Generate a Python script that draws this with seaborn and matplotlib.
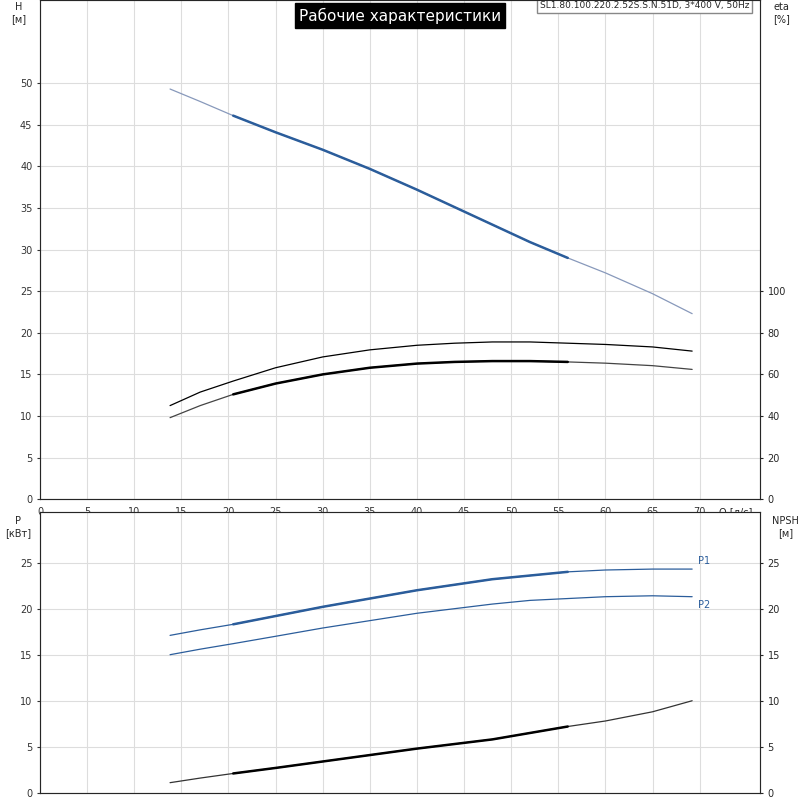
import numpy as np
import pandas as pd
import matplotlib
matplotlib.use("Agg")
import matplotlib.pyplot as plt
import seaborn as sns

sns.set_style("white")
plt.rcParams['font.family'] = ['DejaVu Sans']

# data
q = [13.8, 17, 20.5, 25, 30, 35, 40, 44, 48, 52, 56, 60, 65, 69.2]
head = [49.3, 47.8, 46.1, 44.1, 42.0, 39.7, 37.2, 35.1, 33.0, 30.9, 29.0, 27.2, 24.7, 22.3]
eta1 = [45, 51.5, 56.8, 63.2, 68.4, 71.8, 74.0, 75.0, 75.6, 75.6, 75.0, 74.4, 73.2, 71.2]
eta2 = [39.2, 45.0, 50.4, 55.6, 60.0, 63.2, 65.2, 66.0, 66.4, 66.4, 66.0, 65.4, 64.2, 62.4]
p1 = [17.1, 17.7, 18.3, 19.2, 20.2, 21.1, 22.0, 22.6, 23.2, 23.6, 24.0, 24.2, 24.3, 24.3]
p2 = [15.0, 15.6, 16.2, 17.0, 17.9, 18.7, 19.5, 20.0, 20.5, 20.9, 21.1, 21.3, 21.4, 21.3]
npsh = [1.1, 1.6, 2.1, 2.7, 3.4, 4.1, 4.8, 5.3, 5.8, 6.5, 7.2, 7.8, 8.8, 10.0]
q_lo, q_hi = 20.5, 56

df = pd.DataFrame({"Q": q, "H": head, "eta1": eta1, "eta2": eta2,
                   "P1": p1, "P2": p2, "NPSH": npsh})
work = df[(df.Q >= q_lo) & (df.Q <= q_hi)]

blue = "#2b5d9b"
fig = plt.figure(figsize=(8, 8), dpi=100)
ax1 = fig.add_axes([0.05, 0.376, 0.9, 0.624])
ax2 = fig.add_axes([0.05, 0.009, 0.9, 0.351])


def style(ax, ymax, yticks):
    ax.set_xlim(0, 76.4)
    ax.set_ylim(0, ymax)
    ax.set_xticks(np.arange(0, 75, 5))
    ax.set_yticks(yticks)
    ax.grid(True, color="#dddddd", lw=0.8)
    ax.set_xlabel("")
    ax.set_ylabel("")
    for s in ax.spines.values():
        s.set_color("#888888")
    ax.tick_params(labelsize=7, length=2, colors="#333333")


# top chart: head and efficiency
ax1r = ax1.twinx()
sns.lineplot(df, x="Q", y="H", ax=ax1, color="#8899bb", lw=0.9)
sns.lineplot(work, x="Q", y="H", ax=ax1, color=blue, lw=1.8)
sns.lineplot(df, x="Q", y="eta1", ax=ax1r, color="black", lw=0.9)
sns.lineplot(df, x="Q", y="eta2", ax=ax1r, color="#444444", lw=0.9)
sns.lineplot(work, x="Q", y="eta2", ax=ax1r, color="black", lw=1.8)
style(ax1, 60, np.arange(0, 55, 5))
ax1.set_xticklabels([str(v) for v in range(0, 75, 5)])
ax1r.set_ylim(0, 240)
ax1r.set_yticks(np.arange(0, 120, 20))
ax1r.set_ylabel("")
ax1r.tick_params(labelsize=7, length=2)
ax1.text(-0.03, 0.995, "H\n[м]", transform=ax1.transAxes, ha="center", va="top", fontsize=7)
ax1r.text(1.03, 0.995, "eta\n[%]", transform=ax1.transAxes, ha="center", va="top", fontsize=7)
ax1.text(73.8, -1.6, "Q [л/с]", ha="center", va="center", fontsize=7)
ax1.text(0.5, 0.985, "Рабочие характеристики", transform=ax1.transAxes, ha="center", va="top",
         fontsize=11, color="white", fontfamily="Liberation Sans Narrow",
         bbox=dict(facecolor="black", edgecolor="black", pad=3))
ax1.text(0.985, 0.998, "SL1.80.100.220.2.52S.S.N.51D, 3*400 V, 50Hz", transform=ax1.transAxes,
         ha="right", va="top", fontsize=6.5, fontfamily="Liberation Sans Narrow",
         bbox=dict(facecolor="white", edgecolor="#888888", pad=2))

# bottom chart: power and NPSH
ax2r = ax2.twinx()
sns.lineplot(df, x="Q", y="P1", ax=ax2, color=blue, lw=0.9)
sns.lineplot(work, x="Q", y="P1", ax=ax2, color=blue, lw=1.8)
sns.lineplot(df, x="Q", y="P2", ax=ax2, color=blue, lw=0.9)
sns.lineplot(df, x="Q", y="NPSH", ax=ax2r, color="#333333", lw=0.9)
sns.lineplot(work, x="Q", y="NPSH", ax=ax2r, color="black", lw=1.8)
style(ax2, 30.5, np.arange(0, 30, 5))
ax2.set_xticklabels([])
ax2r.set_ylim(0, 30.5)
ax2r.set_yticks(np.arange(0, 30, 5))
ax2r.set_ylabel("")
ax2r.tick_params(labelsize=7, length=2)
ax2.text(69.8, p1[-1] + 0.6, "P1", fontsize=7, color=blue)
ax2.text(69.8, p2[-1] - 1.2, "P2", fontsize=7, color=blue)
ax2.text(-0.03, 0.985, "P\n[кВт]", transform=ax2.transAxes, ha="center", va="top", fontsize=7)
ax2r.text(1.035, 0.985, "NPSH\n[м]", transform=ax2.transAxes, ha="center", va="top", fontsize=7)

fig.savefig("out.png", dpi=100)
